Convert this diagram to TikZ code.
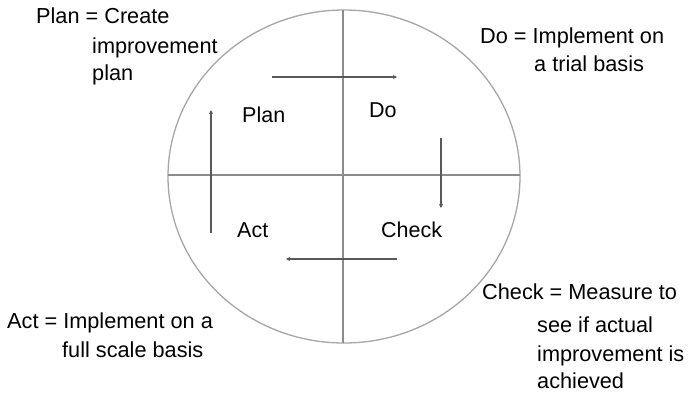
\documentclass[tikz,border=0pt]{standalone}
\usepackage{fontspec}
\setmainfont{Liberation Sans}
\usepackage{tikz}
\usetikzlibrary{arrows.meta,positioning,calc}
\usepackage{xcolor}

\tikzset{
    deftext/.style={anchor=base west, inner sep=0pt, font=\fontsize{21.7}{25}\selectfont},
    quadlabel/.style={anchor=base west, inner sep=0pt, font=\fontsize{21.5}{25}\selectfont},
    cycleline/.style={draw=black!65, line width=1.1pt, -{Stealth[length=4pt,width=4pt]}}
}

\begin{document}
\begin{tikzpicture}[x=1pt,y=-1pt]
    \useasboundingbox (0,0) rectangle (689,394);

    % Wheel
    \draw[black!35, line width=1.3pt] (344,176.5) ellipse [x radius=176, y radius=166.5];
    \draw[black!45, line width=1.1pt] (168,175) -- (520,175);
    \draw[black!45, line width=1.1pt] (343,10) -- (343,343);

    % Quadrant labels
    \node[quadlabel] (plan) at (242,122) {Plan};
    \node[quadlabel] (do) at (369,117) {Do};
    \node[quadlabel] (act) at (237,237) {Act};
    \node[quadlabel] (check) at (381,237) {Check};

    % Cycle arrows
    \coordinate (pd1) at (272,77);  \coordinate (pd2) at (397,77);
    \coordinate (dc1) at (441,138); \coordinate (dc2) at (441,208);
    \coordinate (ca1) at (397,259); \coordinate (ca2) at (286,259);
    \coordinate (ap1) at (211,233); \coordinate (ap2) at (211,110);
    \draw[cycleline] (pd1) -- (pd2);
    \draw[cycleline] (dc1) -- (dc2);
    \draw[cycleline] (ca1) -- (ca2);
    \draw[cycleline] (ap1) -- (ap2);

    % Definitions
    \node[deftext] (plandef1) at (36,23) {Plan = Create};
    \node[deftext] (plandef2) at (92,53) {improvement};
    \node[deftext] (plandef3) at (92,80) {plan};

    \node[deftext] (dodef1) at (480,43) {Do = Implement on};
    \node[deftext] (dodef2) at (534,71) {a trial basis};

    \node[deftext] (checkdef1) at (482,299) {Check = Measure to};
    \node[deftext] (checkdef2) at (537,332) {see if actual};
    \node[deftext] (checkdef3) at (537,361) {improvement is};
    \node[deftext] (checkdef4) at (537,388) {achieved};

    \node[deftext] (actdef1) at (7,328) {Act = Implement on a};
    \node[deftext] (actdef2) at (62,357) {full scale basis};
\end{tikzpicture}
\end{document}
